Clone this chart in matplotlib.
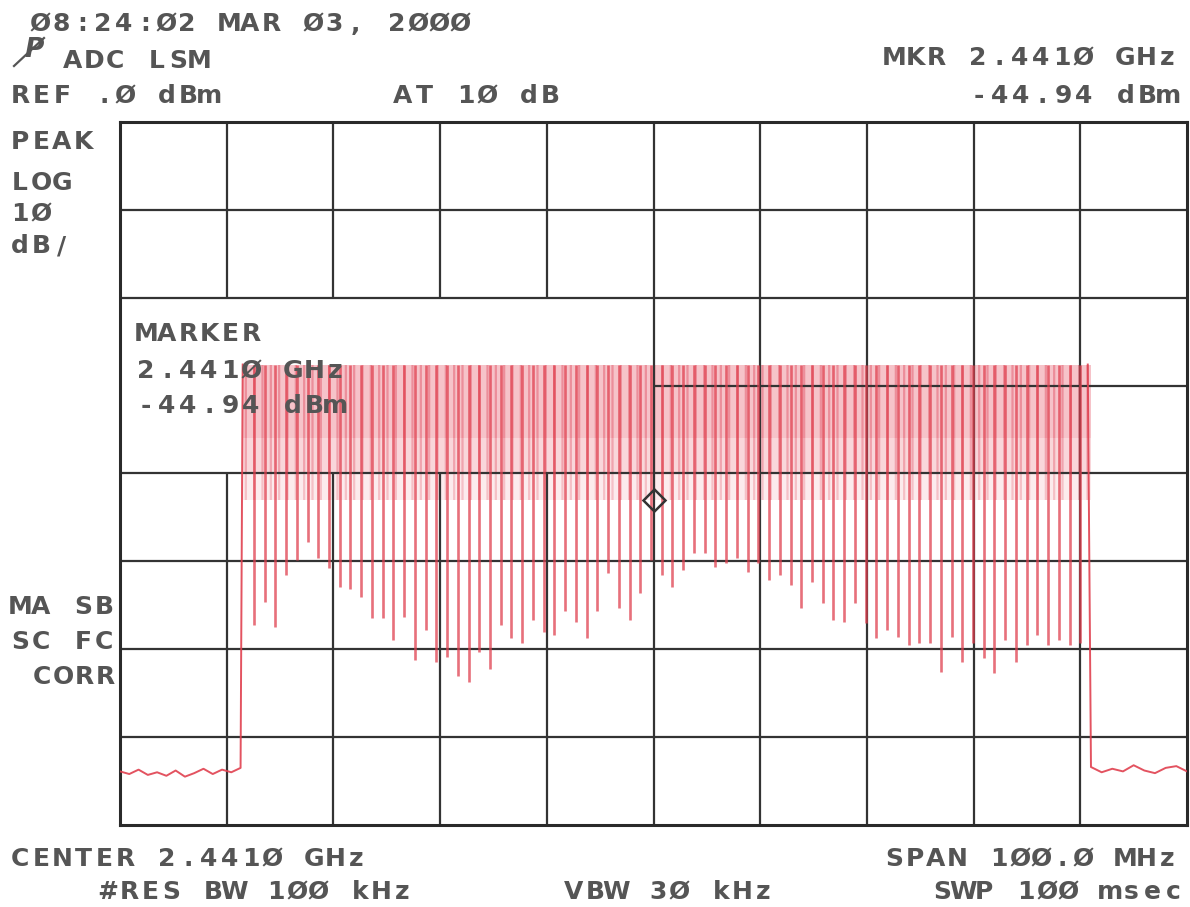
import matplotlib.pyplot as plt
import numpy as np

W, H = 1190, 907
PITCH = 21.0          # printer character pitch in pixels
TXT = '#555555'
RED = '#e0404f'

# analyzer settings
center_mhz = 2441.0
span_mhz = 100.0
ref_db = 0.0
db_per_div = 10.0

# hopping comb: depth of every notch between channels (dBm)
dip_db = [-57.2, -54.6, -57.5, -51.5, -49.8, -47.8, -49.6, -50.7, -52.9, -53.2,
          -54.0, -56.4, -56.4, -58.9, -56.3, -61.2, -57.8, -61.4, -60.9, -63.1,
          -63.7, -60.3, -62.3, -57.2, -58.7, -59.3, -56.7, -58.0, -58.4, -55.7,
          -56.9, -58.7, -55.7, -51.3, -55.3, -56.7, -53.6, -49.8, -51.6, -52.9,
          -51.0, -49.0, -49.0, -50.6, -50.2, -49.6, -51.2, -50.2, -52.1, -51.5,
          -52.7, -55.3, -52.4, -54.7, -56.7, -56.9, -54.7, -57.0, -58.7, -57.8,
          -58.6, -59.5, -59.3, -59.3, -62.6, -58.6, -61.5, -59.3, -61.0, -62.7,
          -58.9, -61.4, -59.5, -58.4, -59.5, -58.9, -59.5, -59.3]
first_dip_mhz, last_dip_mhz = 2403.55, 2481.0
peak_db = -27.6
band_floor_db = [-36.0, -40.0, -43.0]
rise_mhz, fall_mhz = 2402.5, 2482.0

noise_left_db = [-73.9, -74.2, -73.7, -74.3, -74.0, -74.4, -73.8, -74.5,
                 -74.1, -73.6, -74.2, -73.7, -74.0, -73.5]
noise_right_db = [-73.4, -74.0, -73.6, -73.9, -73.2, -73.8, -74.1, -73.5,
                  -73.3, -73.9]

marker_mhz = 2441.0
marker_db = -43.0

# printed annotations: (text, ink-left x px, centre y px)
annotations = [
    ('Ø8:24:Ø2 MAR Ø3, 2ØØØ', 32, 24),
    ('ADC LSM', 65, 61),
    ('REF .Ø dBm', 12, 96),
    ('AT 1Ø dB', 395, 96),
    ('MKR 2.441Ø GHz', 886, 58),
    ('-44.94 dBm', 971, 96),
    ('PEAK', 12, 142),
    ('LOG', 12, 183),
    ('1Ø', 12, 214),
    ('dB/', 12, 246),
    ('MARKER', 138, 334),
    ('2.441Ø GHz', 138, 371),
    ('-44.94 dBm', 138, 406),
    ('MA SB', 12, 607),
    ('SC FC', 12, 642),
    ('CORR', 34, 677),
    ('CENTER 2.441Ø GHz', 12, 859),
    ('#RES BW 1ØØ kHz', 100, 892),
    ('VBW 3Ø kHz', 566, 892),
    ('SPAN 1ØØ.Ø MHz', 886, 859),
    ('SWP 1ØØ msec', 934, 892),
]

plt.rcParams['hatch.linewidth'] = 1.6

f_lo = center_mhz - span_mhz / 2
f_hi = center_mhz + span_mhz / 2
db_lo = ref_db - 8 * db_per_div

fig = plt.figure(figsize=(W / 100, H / 100), dpi=100)
ax = fig.add_axes([120 / W, 1 - 825 / H, (1187 - 120) / W, (825 - 122) / H])
ax.set_xlim(f_lo, f_hi)
ax.set_ylim(db_lo, ref_db)
ax.set_xticks([])
ax.set_yticks([])
for s in ax.spines.values():
    s.set_linewidth(2.2)
    s.set_color('#2a2a2a')

# graticule, blanked behind the marker readout box
xdiv = np.linspace(f_lo, f_hi, 11)[1:-1]
ydiv = np.linspace(db_lo, ref_db, 9)[1:-1]
gkw = dict(color='#333333', lw=1.6, zorder=2)
for y in ydiv:
    if y == -30:
        ax.hlines(y, center_mhz, f_hi, **gkw)
    else:
        ax.hlines(y, f_lo, f_hi, **gkw)
for x in xdiv:
    if x < center_mhz:
        ax.vlines(x, db_lo, -40, **gkw)
        ax.vlines(x, -20, ref_db, **gkw)
    else:
        ax.vlines(x, db_lo, ref_db, **gkw)

# dense max-hold band under the channel peaks, fading downwards
band_faces = ['#f6c3c9', '#f9d6da', '#fcebed']
band_hatch = ['#ec8e9a', '#f0a3ad', '#f5c0c6']
tops = [peak_db] + band_floor_db[:-1]
for top, bot, fc, hc in zip(tops, band_floor_db, band_faces, band_hatch):
    ax.fill_between([rise_mhz, fall_mhz], bot, top, facecolor=fc,
                    edgecolor=hc, hatch='||', lw=0, zorder=1)

# trace: noise floor, edges, and the notch spikes of every channel
dip_f = np.linspace(first_dip_mhz, last_dip_mhz, len(dip_db))
xs = list(np.linspace(f_lo, rise_mhz - 0.2, len(noise_left_db)))
xs.append(rise_mhz)
ax.plot(xs, noise_left_db + [peak_db], color=RED, lw=1.4, alpha=0.9, zorder=3)
xs = [fall_mhz - 0.3] + list(np.linspace(fall_mhz, f_hi, len(noise_right_db)))
ax.plot(xs, [peak_db] + noise_right_db, color=RED, lw=1.4, alpha=0.9, zorder=3)
ax.vlines(dip_f, dip_db, peak_db, color=RED, lw=1.9, alpha=0.75, zorder=3)

ax.plot([marker_mhz], [marker_db], marker='D', ms=11, mfc='none',
        mec='#333333', mew=1.8, zorder=4)

# printer-style text, fixed pitch
for text, x0, y0 in annotations:
    for i, ch in enumerate(text):
        if ch == ' ':
            continue
        fig.text((x0 + 8 + i * PITCH) / W, 1 - y0 / H, ch, ha='center',
                 va='center', fontsize=18, color=TXT, weight='bold',
                 family='DejaVu Sans', zorder=5)

# pen-plotter glyph in the corner
fig.text(34 / W, 1 - 50 / H, 'P', ha='center', va='center', fontsize=19,
         style='italic', weight='bold', color=TXT)
fig.add_artist(plt.Line2D([14 / W, 44 / W], [1 - 66 / H, 1 - 38 / H],
                          color=TXT, lw=1.6))

fig.savefig('out.png', dpi=100)
